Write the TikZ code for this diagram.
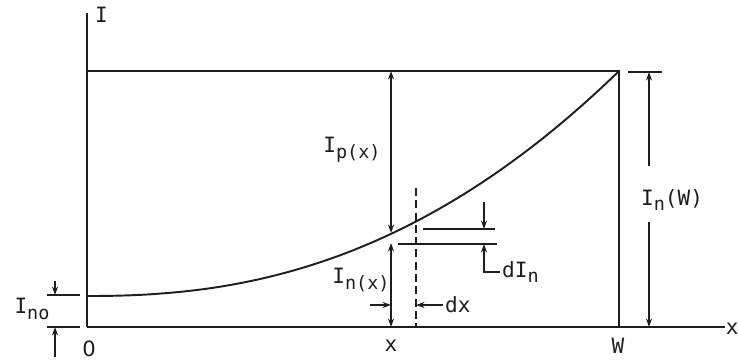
\documentclass[tikz,border=0pt]{standalone}
\usepackage{fontspec}
\usepackage{tikz}
\usepackage{xcolor}
\newfontfamily\letterfont{DejaVu Sans Mono}
\newfontfamily\plainfont{DejaVu Sans}
\usetikzlibrary{arrows.meta,positioning,calc}
\definecolor{ink}{HTML}{1E1E1E}
\newcommand{\lsub}[1]{\raisebox{-0.5ex}{\fontsize{10.5}{11}\selectfont #1}}
\tikzset{
  axisline/.style={draw=ink,line width=1.1pt},
  thinline/.style={draw=ink,line width=0.85pt},
  dashline/.style={draw=ink,line width=0.8pt,dash pattern=on 4.5pt off 2.5pt},
  dimarr/.style={{Stealth[length=1.7mm,width=1.2mm]}-{Stealth[length=1.7mm,width=1.2mm]},
                 draw=ink,line width=0.8pt},
  onearr/.style={-{Stealth[length=1.7mm,width=1.2mm]},draw=ink,line width=0.8pt},
  lbl/.style={font=\letterfont\fontsize{12}{14}\selectfont,text=ink,inner sep=1pt}
}
\begin{document}
\begin{tikzpicture}[x=0.02cm,y=-0.02cm]
  \path[use as bounding box] (0,0) rectangle (739,364);
  % frame and axes
  \coordinate (O) at (87,327);
  \coordinate (ytop) at (87,13);
  \coordinate (xend) at (725,327);
  \coordinate (TL) at (87,71);
  \coordinate (TR) at (619,71);
  \coordinate (BR) at (619,327);
  \draw[axisline] (O) -- (ytop);
  \draw[axisline] (O) -- (xend);
  \draw[axisline] (TL) -- (TR) -- (BR);
  \draw[axisline] plot[domain=0.0001:1,samples=60] ({87+532*\x},{296-225*pow(\x,2.3)});
  \node[lbl,anchor=west] (Ilab) at (93,15) {I};
  \node[lbl,anchor=east,inner sep=0pt] (xlab) at (739,329) {x};
  \node[lbl,font=\plainfont\fontsize{12}{14}\selectfont] (zero) at (89,349) {0};
  \node[lbl] (xpos) at (391,346) {x};
  \node[lbl] (wpos) at (618,346) {W};
  % I_no at the left
  \coordinate (nohiL) at (47,295);
  \coordinate (nohiR) at (80,295);
  \coordinate (noloL) at (47,327);
  \coordinate (noloR) at (80,327);
  \draw[thinline] (nohiL) -- (nohiR);
  \draw[thinline] (noloL) -- (noloR);
  \draw[onearr] (55,281) -- (55,295);
  \draw[onearr] (55,357) -- (55,327);
  \node[lbl] (Inolab) at (32,309) {I\lsub{no}};
  % I_p(x), I_n(x)
  \coordinate (ptop) at (391,71);
  \coordinate (pbot) at (391,233);
  \coordinate (nlo) at (391,243);
  \coordinate (nbot) at (391,327);
  \draw[dimarr] (ptop) -- (pbot);
  \draw[dimarr] (nlo) -- (nbot);
  \node[lbl] (Iplab) at (352,150) {I\lsub{p(x)}};
  \node[lbl] (Inlab) at (361,280) {I\lsub{n(x)}};
  % dx
  \coordinate (dtop) at (416,188);
  \coordinate (dbot) at (416,327);
  \draw[dashline] (dtop) -- (dbot);
  \node[lbl,anchor=west] (dxlab) at (443,305) {dx};
  \draw[onearr] (dxlab.west) -- (416,305);
  \draw[onearr] (370,305) -- (391,305);
  % dI_n
  \coordinate (upL) at (423,229);
  \coordinate (upR) at (495,229);
  \coordinate (loL) at (398,244);
  \coordinate (loR) at (497,244);
  \draw[thinline] (upL) -- (upR);
  \draw[thinline] (loL) -- (loR);
  \draw[onearr] (484,202) -- (484,229);
  \node[lbl,anchor=west] (dIlab) at (500,272) {dI\lsub{n}};
  \draw[onearr] (dIlab.west) -| (484,244);
  % I_n(W)
  \coordinate (wtickL) at (628,72);
  \coordinate (wtickR) at (662,72);
  \draw[thinline] (wtickL) -- (wtickR);
  \node[lbl] (Wlab) at (672,200) {I\lsub{n}(W)};
  \draw[onearr] (649,166) -- (649,72);
  \draw[onearr] (649,222) -- (649,327);
\end{tikzpicture}
\end{document}
